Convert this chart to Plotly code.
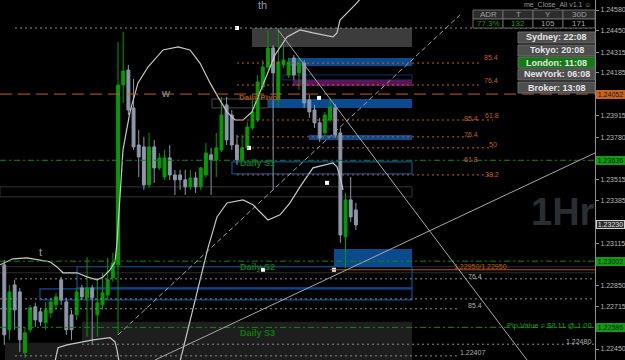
import plotly.graph_objects as go

# ---------------- data (EURUSD-like 1H chart) ----------------
bars = list(range(69))
opens = [1.22979, 1.22571, 1.22853, 1.22809, 1.22426, 1.22571, 1.22715, 1.22684, 1.22615, 1.22677,
         1.22728, 1.22885, 1.22746, 1.22665, 1.22665, 1.22834, 1.22772, 1.22834, 1.22665, 1.22728,
         1.22790, 1.22897, 1.22979, 1.24109, 1.24203, 1.23965, 1.23732, 1.23720, 1.23481, 1.23720,
         1.23588, 1.23531, 1.23651, 1.23544, 1.23544, 1.23513, 1.23469, 1.23525, 1.23469, 1.23544,
         1.23670, 1.23638, 1.23701, 1.23984, 1.23921, 1.23732, 1.23638, 1.23714, 1.23839, 1.23889,
         1.24097, 1.24222, 1.24342, 1.24015, 1.24235, 1.24172, 1.24279, 1.24185, 1.24247, 1.24015,
         1.23952, 1.23871, 1.23808, 1.23889, 1.23965, 1.23808, 1.23155, 1.23387, 1.23324]
highs = [1.23010, 1.22853, 1.22885, 1.22834, 1.22589, 1.22728, 1.22740, 1.22709, 1.22746, 1.22772,
         1.22803, 1.22903, 1.22772, 1.22696, 1.22834, 1.22853, 1.23029, 1.22853, 1.22897, 1.22929,
         1.23023, 1.23054, 1.24379, 1.24442, 1.24235, 1.24147, 1.23827, 1.23783, 1.23808, 1.23764,
         1.23682, 1.23701, 1.23732, 1.23575, 1.23575, 1.23575, 1.23575, 1.23563, 1.23594, 1.23745,
         1.23714, 1.23808, 1.24034, 1.24034, 1.23952, 1.23795, 1.23795, 1.23877, 1.24034, 1.24172,
         1.24266, 1.24455, 1.24360, 1.24467, 1.24360, 1.24279, 1.24298, 1.24279, 1.24266, 1.24046,
         1.23984, 1.23902, 1.23940, 1.24028, 1.23990, 1.23839, 1.23431, 1.23531, 1.23368]
lows = [1.22476, 1.22508, 1.22571, 1.22432, 1.22395, 1.22552, 1.22589, 1.22596, 1.22571, 1.22646,
        1.22696, 1.22728, 1.22539, 1.22508, 1.22633, 1.22759, 1.22527, 1.22476, 1.22527, 1.22696,
        1.22759, 1.22872, 1.22539, 1.23996, 1.23921, 1.23701, 1.23531, 1.23450, 1.23462, 1.23494,
        1.23575, 1.23513, 1.23513, 1.23418, 1.23450, 1.23418, 1.23450, 1.23431, 1.23450, 1.23525,
        1.23418, 1.23531, 1.23688, 1.23732, 1.23701, 1.23607, 1.23626, 1.23701, 1.23827, 1.23877,
        1.24078, 1.24203, 1.23450, 1.23971, 1.24216, 1.24153, 1.24141, 1.24078, 1.23965, 1.23902,
        1.23839, 1.23751, 1.23789, 1.23877, 1.23776, 1.23117, 1.22960, 1.23249, 1.23199]
closes = [1.22539, 1.22809, 1.22696, 1.22508, 1.22552, 1.22709, 1.22633, 1.22621, 1.22696, 1.22746,
          1.22778, 1.22759, 1.22571, 1.22571, 1.22809, 1.22778, 1.22834, 1.22772, 1.22740, 1.22803,
          1.22885, 1.22991, 1.24109, 1.24197, 1.23952, 1.23720, 1.23657, 1.23481, 1.23720, 1.23588,
          1.23651, 1.23651, 1.23544, 1.23513, 1.23513, 1.23469, 1.23525, 1.23469, 1.23588, 1.23682,
          1.23638, 1.23714, 1.23921, 1.23764, 1.23732, 1.23638, 1.23714, 1.23845, 1.23940, 1.24128,
          1.24222, 1.24342, 1.24185, 1.24254, 1.24266, 1.24254, 1.24172, 1.24247, 1.23996, 1.23940,
          1.23871, 1.23776, 1.23921, 1.23971, 1.23795, 1.23167, 1.23387, 1.23280, 1.23230]

# envelope-like indicator curves (bar index, price)
curve_a_t = [-0.83, 0.52, 1.68, 4.39, 6.91, 8.84, 10.19, 11.35, 14.06, 16.0, 17.93, 19.09, 20.45, 21.41,
             21.8, 22.19, 22.96, 24.31, 25.86, 27.79, 30.7, 33.6, 35.92, 37.85, 39.79, 41.33, 43.07,
             44.62, 46.17, 47.91, 50.04, 52.36, 54.68, 57.19, 59.71, 63.58, 64.35, 64.93, 67.83, 69.19]
curve_a_p = [1.22979, 1.22998, 1.23017, 1.23023, 1.23010, 1.22998, 1.22966, 1.22929, 1.22929, 1.22903,
             1.22885, 1.22903, 1.22947, 1.22998, 1.23117, 1.23324, 1.23701, 1.23940, 1.24122, 1.24222,
             1.24329, 1.24348, 1.24329, 1.24247, 1.24122, 1.24034, 1.23940, 1.23889, 1.23889, 1.23940,
             1.24109, 1.24298, 1.24411, 1.24455, 1.24436, 1.24411, 1.24436, 1.24517, 1.24612, 1.24662]
curve_b_t = [9.8, 10.39, 12.13, 14.06, 17.16, 20.45, 21.41, 21.8, 22.19, None, 33.98, 36.88, 39.4,
             41.14, 43.07, 46.17, 48.1, 51.0, 53.33, 55.26, 57.19, 59.71, 63.58, 64.35, 64.93, 65.51]
curve_b_p = [1.22370, 1.22458, 1.22476, 1.22489, 1.22508, 1.22521, 1.22495, 1.22445, 1.22370, None,
             1.22370, 1.22759, 1.23086, 1.23280, 1.23368, 1.23387, 1.23356, 1.23261, 1.23293, 1.23368,
             1.23469, 1.23588, 1.23619, 1.23594, 1.23531, 1.23450]

# levels
pivot_level = 1.24052
support_levels = [1.23636, 1.23002, 1.22586]          # Daily S1, S2, S3
support_names = ["Daily S1", "Daily S2", "Daily S3"]
orange_fib_levels = [1.24247, 1.24109, 1.23889, 1.23783, 1.23714, 1.23544]
gray_dot_levels = [1.24467, 1.22891, 1.22765, 1.22703, 1.22480, 1.22407]
dark_line_levels = [1.22967, 1.22929]
entry_level = 1.22948

# zones (bar index start/end, price top/bottom)
zone_t0 = [47.91, 54.87, 53.9, 55.84, 51.0, 58.93, 44.04, -0.83, 40.17, 63.77, 14.06, 6.9, 15.03, 0.14]
zone_t1 = [78.86] * 8 + [51.0] + [78.86] * 4 + [15.03]
zone_top = [1.24467, 1.24279, 1.24172, 1.24141, 1.24021, 1.23795, 1.23626, 1.23469, 1.24021,
            1.23079, 1.22967, 1.22828, 1.22621, 1.22489]
zone_bot = [1.24348, 1.24229, 1.24141, 1.24103, 1.23965, 1.23764, 1.23550, 1.23406, 1.23965,
            1.22967, 1.22834, 1.22759, 1.22381, 1.22381]

# trend lines (bar index, price)
trend_t0 = [52.94, 29.15, 22.0]
trend_p0 = [1.24455, 1.22381, 1.22539]
trend_t1 = [101.1, 114.25, 88.14]
trend_p1 = [1.22381, 1.23682, 1.24549]

marker_t = [45.01, 60.87, 47.33, 62.42, 50.04, 63.77]
marker_p = [1.24467, 1.24028, 1.23714, 1.23494, 1.22948, 1.22948]

axis_ticks = [1.24580, 1.24450, 1.24315, 1.24185, 1.23915, 1.23780, 1.23515, 1.23385,
              1.23115, 1.22850, 1.22715, 1.22450]
axis_marks = [1.24052, 1.23636, 1.23230, 1.23002, 1.22586]

table_head = ["ADR", "T", "Y", "30D"]
table_vals = ["77.3%", "132", "105", "171"]
sessions = ["Sydney: 22:08", "Tokyo: 20:08", "London: 11:08", "NewYork: 06:08", "Broker: 13:08"]

# ---------------- figure ----------------
PW, PH = 595.0, 360.0
def xp(px):
    return px / PW
def yp(py):
    return 1 - py / PH

GREEN = "#009c00"
GRAYC = "#8c98aa"
ORANGE = "#c0601a"
DGREEN = "#0d7a0d"
BLUE = "#0b4a8c"

fig = go.Figure()
fig.add_trace(go.Candlestick(
    x=bars, open=opens, high=highs, low=lows, close=closes,
    increasing=dict(line=dict(color=GREEN, width=1), fillcolor=GREEN),
    decreasing=dict(line=dict(color=GRAYC, width=1), fillcolor=GRAYC),
    whiskerwidth=0, showlegend=False, hoverinfo="skip"))
fig.add_trace(go.Scatter(x=curve_a_t, y=curve_a_p, mode="lines",
                         line=dict(color="#c8c8c8", width=1.2), hoverinfo="skip"))
fig.add_trace(go.Scatter(x=curve_b_t, y=curve_b_p, mode="lines",
                         line=dict(color="#c8c8c8", width=1.2), hoverinfo="skip", connectgaps=False))
fig.add_trace(go.Scatter(x=marker_t, y=marker_p, mode="markers",
                         marker=dict(symbol="square", size=4, color="white"), hoverinfo="skip"))

shapes = []
zone_styles = [
    dict(fillcolor="#3c3c3c", line=dict(width=0)),
    dict(fillcolor=BLUE, line=dict(width=0)),
    dict(fillcolor="rgba(0,0,0,0)", line=dict(color="#0a3366", width=1)),
    dict(fillcolor="#5a145a", line=dict(width=0)),
    dict(fillcolor=BLUE, line=dict(width=0)),
    dict(fillcolor=BLUE, line=dict(width=0)),
    dict(fillcolor="rgba(0,0,0,0)", line=dict(color="#0d4d99", width=1.2)),
    dict(fillcolor="rgba(0,0,0,0)", line=dict(color="#333333", width=1)),
    dict(fillcolor="rgba(0,0,0,0)", line=dict(color="#4a4a4a", width=1)),
    dict(fillcolor=BLUE, line=dict(width=0)),
    dict(fillcolor="rgba(0,0,0,0)", line=dict(color="#0d4d99", width=1.2)),
    dict(fillcolor="rgba(0,0,0,0)", line=dict(color="#0d4d99", width=1.2)),
    dict(fillcolor="#1e1e1e", line=dict(width=0)),
    dict(fillcolor="#1c1c1c", line=dict(width=0)),
]
for t0, t1, a, b, st in zip(zone_t0, zone_t1, zone_top, zone_bot, zone_styles):
    shapes.append(dict(type="rect", xref="x", yref="y", x0=t0, x1=t1, y0=b, y1=a, layer="below", **st))

# dark solid lines
for lv in dark_line_levels:
    shapes.append(dict(type="line", xref="paper", yref="y", x0=0, x1=1, y0=lv, y1=lv,
                       line=dict(color="#2e2e2e", width=1), layer="below"))
# gray dotted lines
gray_x = [(15, 595), (15, 595), (0, 595), (0, 460), (82, 595), (15, 460)]
for lv, (a, b) in zip(gray_dot_levels, gray_x):
    shapes.append(dict(type="line", xref="paper", yref="y", x0=xp(a), x1=xp(b), y0=lv, y1=lv,
                       line=dict(color="#8a8a8a", width=1, dash="2px,3px")))
# orange fib dotted lines
fib_end = [482, 482, 493, 472, 493, 493]
for lv, e in zip(orange_fib_levels, fib_end):
    shapes.append(dict(type="line", xref="paper", yref="y", x0=xp(237), x1=xp(e), y0=lv, y1=lv,
                       line=dict(color=ORANGE, width=1, dash="2px,3px")))
# pivot dashed
shapes.append(dict(type="line", xref="paper", yref="y", x0=0, x1=1, y0=pivot_level, y1=pivot_level,
                   line=dict(color="#c0601a", width=1, dash="12px,6px")))
# support dash-dot
for lv in support_levels:
    shapes.append(dict(type="line", xref="paper", yref="y", x0=0, x1=1, y0=lv, y1=lv,
                       line=dict(color="#0e8a0e", width=1, dash="6px,3px,2px,3px")))
# entry orange line
shapes.append(dict(type="line", xref="x", yref="y", x0=63.0, x1=114.25, y0=entry_level, y1=entry_level,
                   line=dict(color="#b8551a", width=1)))
# trend lines
trend_styles = [dict(color="#a8a8a8", width=1), dict(color="#a8a8a8", width=1),
                dict(color="#a0a0a0", width=1, dash="5px,3px")]
for t0, p0, t1, p1, st in zip(trend_t0, trend_p0, trend_t1, trend_p1, trend_styles):
    shapes.append(dict(type="line", xref="x", yref="y", x0=t0, y0=p0, x1=t1, y1=p1, line=st))

# info table
col_x = [473, 503, 533, 563, 595]
for i in range(4):
    shapes.append(dict(type="rect", xref="paper", yref="paper", x0=xp(col_x[i]), x1=xp(col_x[i + 1]),
                       y0=yp(19), y1=yp(10), fillcolor="#2c2c2c", line=dict(color="#6a6a6a", width=1)))
    shapes.append(dict(type="rect", xref="paper", yref="paper", x0=xp(col_x[i]), x1=xp(col_x[i + 1]),
                       y0=yp(28), y1=yp(19), fillcolor="#000000", line=dict(color="#6a6a6a", width=1)))
row_top = [32, 45, 57, 69, 82]
for i, s in enumerate(sessions):
    shapes.append(dict(type="rect", xref="paper", yref="paper", x0=xp(518), x1=xp(595),
                       y0=yp(row_top[i] + 11), y1=yp(row_top[i]),
                       fillcolor="#117a11" if s.startswith("London") else "#4e4e4e",
                       line=dict(color="#6a6a6a", width=1)))

ann = []
def txt(x, y, s, size=8, color="#aaa", anchor="left", bold=False, family="Liberation Sans"):
    ann.append(dict(xref="paper", yref="paper", x=xp(x), y=yp(y), text=("<b>%s</b>" % s) if bold else s,
                    showarrow=False, xanchor=anchor, yanchor="middle",
                    font=dict(size=size, color=color, family=family)))

# big timeframe watermark (drawn first so it stays behind)
txt(563, 212, "1Hr", 38, "#2a2d31", "center", bold=True)

for i in range(4):
    cx = (col_x[i] + col_x[i + 1]) / 2
    txt(cx, 14.5, table_head[i], 8, "#a0a0a0", "center")
    txt(cx, 23.5, table_vals[i], 8, "#1a9a1a" if i < 2 else "#a0a0a0", "center")
for i, s in enumerate(sessions):
    txt(556.5, row_top[i] + 5.5, s, 9, "#e6e6e6", "center", bold=True)
txt(593, 5, "me_Close_All v1.1 ☺", 7, "#9a9a9a", "right")

# fib labels
txt(482, 58, "85.4", 7, ORANGE)
txt(482, 81, "76.4", 7, ORANGE)
txt(462, 119, "85.4", 7, ORANGE)
txt(483, 116, "61.8", 7, ORANGE)
txt(462, 134, "76.4", 7, ORANGE)
txt(487, 144, "50", 7, ORANGE)
txt(462, 159, "61.8", 7, ORANGE)
txt(483, 174, "38.2", 7, ORANGE)
txt(466, 276, "76.4", 7, "#b0b0b0")
txt(466, 305, "85.4", 7, "#b0b0b0")
txt(593, 341, "1.22480", 7, "#b0b0b0", "right")
txt(458, 352, "1.22407", 7, "#b0b0b0")
txt(452, 266, "1.22950/1.22950", 7, ORANGE)

# pivot labels
txt(237, 98, "Daily Pivot", 8, "#a0501a", bold=True)
for nm, y in zip(support_names, [163, 267, 333]):
    txt(238, y, nm, 9, DGREEN, bold=True)
txt(594, 325, "Pip Value = $8.11 @ 1.00", 7.5, "#16a016", "right")
txt(165, 93, "w", 11, "#9a9a9a", "center")
txt(40, 252, "t", 11, "#9a9a9a", "center")
txt(262, 5, "th", 11, "#8a9ab0", "center")

# axis highlighted price boxes
mark_bg = ["#c8641e", "#129a12", "#2e2e2e", "#129a12", "#129a12"]
mark_fg = ["#1a1a1a", "#0a2a0a", "#e0e0e0", "#0a2a0a", "#0a2a0a"]
for v, bg, fg in zip(axis_marks, mark_bg, mark_fg):
    ann.append(dict(xref="paper", yref="y", x=1.0, xshift=1, y=v, text="%.5f" % v, showarrow=False,
                    xanchor="left", yanchor="middle", bgcolor=bg, bordercolor="#d0d0d0" if bg == "#2e2e2e" else bg,
                    borderwidth=1, borderpad=0, width=27,
                    font=dict(size=7, color=fg, family="Liberation Sans")))

fig.update_layout(
    width=625, height=360, margin=dict(l=0, r=30, t=0, b=0),
    paper_bgcolor="black", plot_bgcolor="black", showlegend=False, hovermode=False,
    boxgap=0.2,
    xaxis=dict(range=[-0.83, 114.25], visible=False, rangeslider=dict(visible=False), fixedrange=True),
    yaxis=dict(range=[1.22381, 1.24643], side="right", tickvals=axis_ticks,
               ticktext=["%.5f" % v for v in axis_ticks],
               tickfont=dict(family="Liberation Sans", size=7, color="#b8b8b8"),
               ticks="outside", ticklen=3, tickcolor="#909090",
               showline=True, linecolor="#909090", linewidth=1, showgrid=False, zeroline=False,
               fixedrange=True),
    shapes=shapes, annotations=ann,
)
fig.write_html("out.html")
